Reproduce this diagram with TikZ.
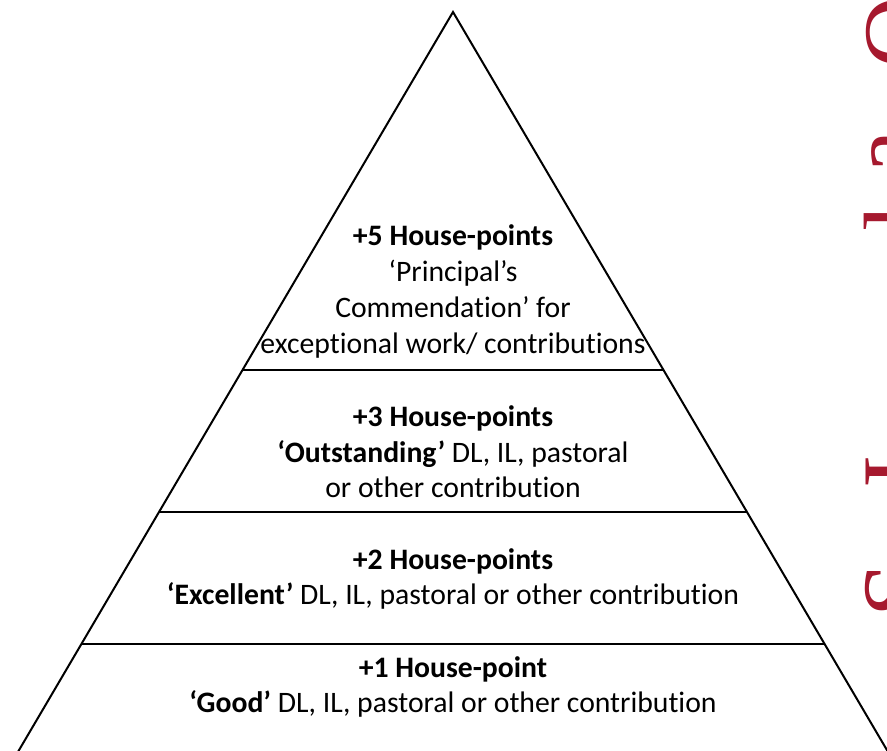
\documentclass[tikz,border=0pt]{standalone}
\usepackage{fontspec}
\usetikzlibrary{calc}
\setmainfont[RawFeature=-liga]{Carlito}
\newfontfamily\redserif{Liberation Serif}
\definecolor{crest}{RGB}{166,25,46}
\begin{document}
\begin{tikzpicture}[x=1pt,y=-1pt,
  edge/.style={line width=2pt,black},
  divider/.style={line width=2.2pt,black},
  lbl/.style={font=\fontsize{29.7}{35}\selectfont,inner sep=0pt,anchor=base},
  redglyph/.style={font=\redserif\fontsize{100}{100}\selectfont,text=crest,rotate=90,inner sep=0pt,anchor=base}]
\useasboundingbox (0,0) rectangle (887,751);
\clip (0,0) rectangle (887,751);
\fill[white] (0,0) rectangle (887,751);
% pyramid
\coordinate (apex) at (453,12);
\coordinate (bl) at (453-434.5,751);
\coordinate (br) at (453+434.5,751);
\draw[edge,line join=miter] ($(apex)!1.05!(bl)$) -- (apex) -- ($(apex)!1.05!(br)$);
\coordinate (d1l) at (242.5,370); \coordinate (d1r) at (663.5,370);
\coordinate (d2l) at (159,512);   \coordinate (d2r) at (747,512);
\coordinate (d3l) at (81.4,644);  \coordinate (d3r) at (824.6,644);
\draw[divider] (d1l) -- (d1r);
\draw[divider] (d2l) -- (d2r);
\draw[divider] (d3l) -- (d3r);
% tier 5
\node[lbl] (t5a) at (453,246) {\textbf{+5 House-points}};
\node[lbl] (t5b) at (453,282) {‘Principal’s};
\node[lbl] (t5c) at (453,318) {Commendation’ for};
\node[lbl] (t5d) at (453,354) {exceptional work/ contributions};
% tier 3
\node[lbl] (t3a) at (453,427) {\textbf{+3 House-points}};
\node[lbl] (t3b) at (453,462) {\textbf{‘Outstanding’} DL, IL, pastoral};
\node[lbl] (t3c) at (453,497) {or other contribution};
% tier 2
\node[lbl] (t2a) at (453,569) {\textbf{+2 House-points}};
\node[lbl] (t2b) at (453,604) {\textbf{‘Excellent’} DL, IL, pastoral or other contribution};
% tier 1
\node[lbl] (t1a) at (453,677) {\textbf{+1 House-point}};
\node[lbl] (t1b) at (453,712) {\textbf{‘Good’} DL, IL, pastoral or other contribution};
% red lettering cut by the right edge
\node[redglyph] (g1) at (932,32) {O};
\node[redglyph] (g2) at (918,152) {a};
\node[redglyph] (g3) at (933,218) {l};
\node[redglyph] (g4) at (931,472) {I};
\node[redglyph] (g5) at (931,590) {S};
\end{tikzpicture}
\end{document}
